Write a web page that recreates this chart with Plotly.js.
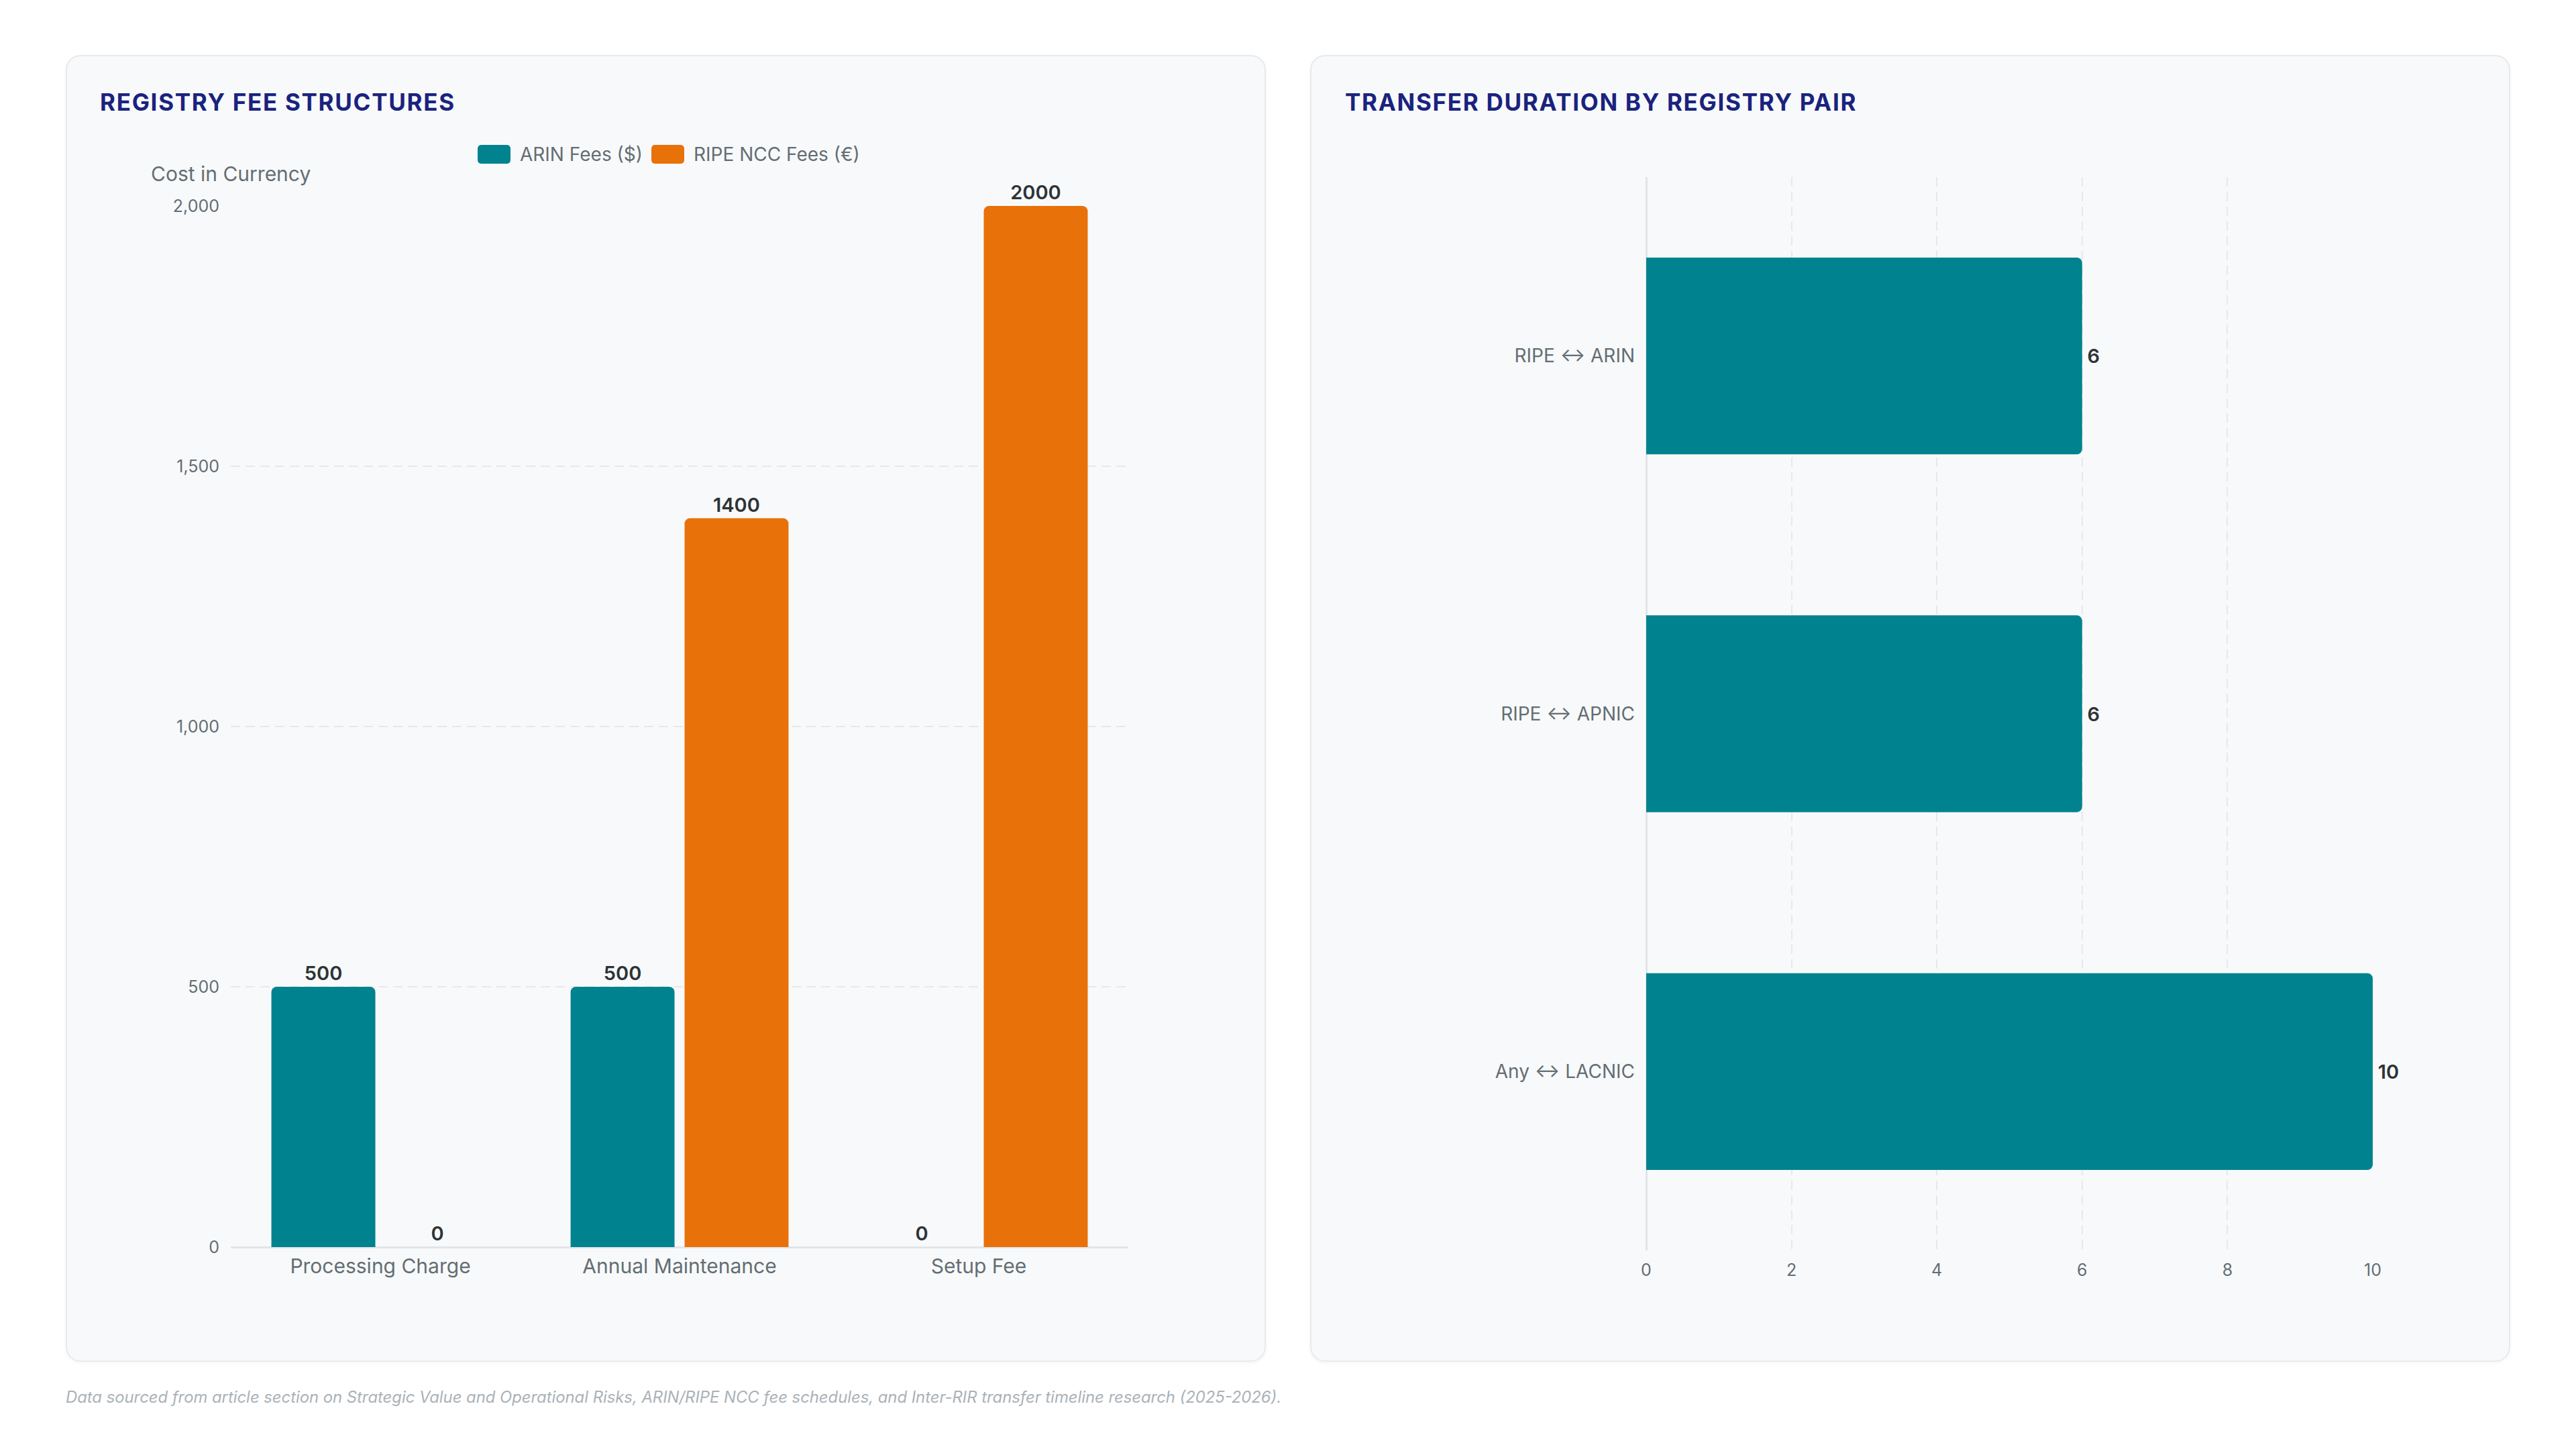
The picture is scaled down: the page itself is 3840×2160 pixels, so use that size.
<!DOCTYPE html>
<html>
<head>
<meta charset="utf-8">
<script src="https://cdn.plot.ly/plotly-3.0.1.min.js"></script>
<style>
  html, body { margin:0; padding:0; background:#ffffff; }
  body { width:3840px; height:2160px; position:relative; overflow:hidden; font-family:Inter, "Noto Sans", sans-serif; }
  .card { position:absolute; top:82px; width:1785px; height:1944px; background:#f8f9fb; border:2px solid #e7eaed; border-radius:22px; box-shadow:0 2px 6px rgba(0,0,0,0.04); }
  .plot { position:absolute; left:0; top:0; width:1785px; height:1944px; }
  .gtitle { letter-spacing:1.7px; }
  #footer { position:absolute; left:98px; top:2068px; font-size:23.8px; font-style:italic; color:#aab2b8; font-family:Inter, sans-serif; white-space:nowrap; }
</style>
</head>
<body>
<div class="card" style="left:98px;"><div id="feeChart" class="plot"></div></div>
<div class="card" style="left:1953px;"><div id="durationChart" class="plot"></div></div>
<div id="footer">Data sourced from article section on Strategic Value and Operational Risks, ARIN/RIPE NCC fee schedules, and Inter-RIR transfer timeline research (2025-2026).</div>
<script>
// ---- data ----
const feeCategories = ['Processing Charge', 'Annual Maintenance', 'Setup Fee'];
const arinFees = [500, 500, 0];
const ripeFees = [0, 1400, 2000];
const seriesNames = ['ARIN Fees ($)', 'RIPE NCC Fees (€)'];
const registryPairs = ['RIPE ↔ ARIN', 'RIPE ↔ APNIC', 'Any ↔ LACNIC'];
const transferMonths = [6, 6, 10];
const feeTickValues = [0, 500, 1000, 1500, 2000];
const durationTickValues = [0, 2, 4, 6, 8, 10];

// ---- style ----
const TEAL = '#00838f', ORANGE = '#e8710a', NAVY = '#1a237e', GREY = '#636e72', DARK = '#2d3436';
const GRID = '#e6e9ec', ZERO = '#e2e5e8';
const FONT = 'Inter, "Noto Sans", sans-serif';
const W = 1789, H = 1948;
const cfg = {staticPlot: true, displayModeBar: false};

// ---- left chart ----
const L = {l: 244, r: 207, t: 223, b: 173};
const pw = W - L.l - L.r, ph = H - L.t - L.b;
const px = cx => (cx - L.l) / pw;
const py = cy => (H - L.b - cy) / ph;
function roundRect(x0, y0, x1, y1, r) {
  const X = v => px(v).toFixed(5), Y = v => py(v).toFixed(5);
  return 'M' + X(x0 + r) + ',' + Y(y0) + ' L' + X(x1 - r) + ',' + Y(y0) +
    ' Q' + X(x1) + ',' + Y(y0) + ' ' + X(x1) + ',' + Y(y0 + r) +
    ' L' + X(x1) + ',' + Y(y1 - r) + ' Q' + X(x1) + ',' + Y(y1) + ' ' + X(x1 - r) + ',' + Y(y1) +
    ' L' + X(x0 + r) + ',' + Y(y1) + ' Q' + X(x0) + ',' + Y(y1) + ' ' + X(x0) + ',' + Y(y1 - r) +
    ' L' + X(x0) + ',' + Y(y0 + r) + ' Q' + X(x0) + ',' + Y(y0) + ' ' + X(x0 + r) + ',' + Y(y0) + ' Z';
}

const barText = {family: FONT, size: 29, color: DARK, weight: 600};
const feeTraces = [
  {type: 'bar', name: seriesNames[0], x: feeCategories, y: arinFees, marker: {color: TEAL, cornerradius: 8},
   text: arinFees.map(String), textposition: 'outside', textfont: barText, cliponaxis: false, showlegend: false},
  {type: 'bar', name: seriesNames[1], x: feeCategories, y: ripeFees, marker: {color: ORANGE, cornerradius: 8},
   text: ripeFees.map(String), textposition: 'outside', textfont: barText, cliponaxis: false, showlegend: false}
];
const legendItems = [
  {sx: 612, color: TEAL, tx: 673, label: seriesNames[0]},
  {sx: 871, color: ORANGE, tx: 932, label: seriesNames[1]}
];
const feeLayout = {
  width: W, height: H, margin: L,
  paper_bgcolor: 'rgba(0,0,0,0)', plot_bgcolor: 'rgba(0,0,0,0)',
  font: {family: FONT, color: GREY},
  title: {text: 'REGISTRY FEE STRUCTURES', font: {family: FONT, size: 35, weight: 700, color: NAVY},
          x: 49 / W, xref: 'container', xanchor: 'left', y: 1 - 69 / H, yref: 'container', yanchor: 'middle'},
  barmode: 'group', bargap: 0.238, bargroupgap: 0.088,
  xaxis: {type: 'category', tickfont: {size: 30, color: GREY}, showgrid: false, showline: false, ticks: '', ticklabelstandoff: 8},
  yaxis: {range: [0, 2000], tickvals: feeTickValues, tickformat: ',', tickfont: {size: 25, color: GREY},
          showgrid: true, gridcolor: GRID, gridwidth: 2, griddash: '14px,8px',
          zeroline: true, zerolinecolor: ZERO, zerolinewidth: 3, showline: false, ticks: '', ticklabelstandoff: 16},
  shapes: legendItems.map(it => ({type: 'path', xref: 'paper', yref: 'paper', path: roundRect(it.sx, 132, it.sx + 49, 160, 6),
                                  fillcolor: it.color, line: {width: 0}})),
  annotations: [
    {text: 'Cost in Currency', xref: 'paper', yref: 'paper', x: px(123), y: py(175), xanchor: 'left', yanchor: 'middle',
     showarrow: false, font: {size: 30, color: GREY}}
  ].concat(legendItems.map(it => ({text: it.label, xref: 'paper', yref: 'paper', x: px(it.tx), y: py(146),
     xanchor: 'left', yanchor: 'middle', showarrow: false, font: {size: 28, color: GREY}})))
};
Plotly.newPlot('feeChart', feeTraces, feeLayout, cfg);

// ---- right chart ----
const R = {l: 499, r: 207, t: 180, b: 168};
const durTrace = {type: 'bar', orientation: 'h', y: registryPairs, x: transferMonths, marker: {color: TEAL, cornerradius: 8},
  text: transferMonths.map(v => '\u2009' + v), textposition: 'outside', textfont: barText, cliponaxis: false, showlegend: false};
const durLayout = {
  width: W, height: H, margin: R,
  paper_bgcolor: 'rgba(0,0,0,0)', plot_bgcolor: 'rgba(0,0,0,0)',
  font: {family: FONT, color: GREY},
  title: {text: 'TRANSFER DURATION BY REGISTRY PAIR', font: {family: FONT, size: 35, weight: 700, color: NAVY},
          x: 50 / W, xref: 'container', xanchor: 'left', y: 1 - 69 / H, yref: 'container', yanchor: 'middle'},
  bargap: 0.45,
  xaxis: {range: [0, 10], tickvals: durationTickValues, tickfont: {size: 25, color: GREY},
          showgrid: true, gridcolor: GRID, gridwidth: 2, griddash: '14px,8px',
          zeroline: true, zerolinecolor: ZERO, zerolinewidth: 3, showline: false, ticks: '', ticklabelstandoff: 12},
  yaxis: {type: 'category', autorange: 'reversed', tickfont: {size: 28, color: GREY}, showgrid: false,
          showline: false, zeroline: false, ticks: '', ticklabelstandoff: 16}
};
Plotly.newPlot('durationChart', [durTrace], durLayout, cfg);
</script>
</body>
</html>
